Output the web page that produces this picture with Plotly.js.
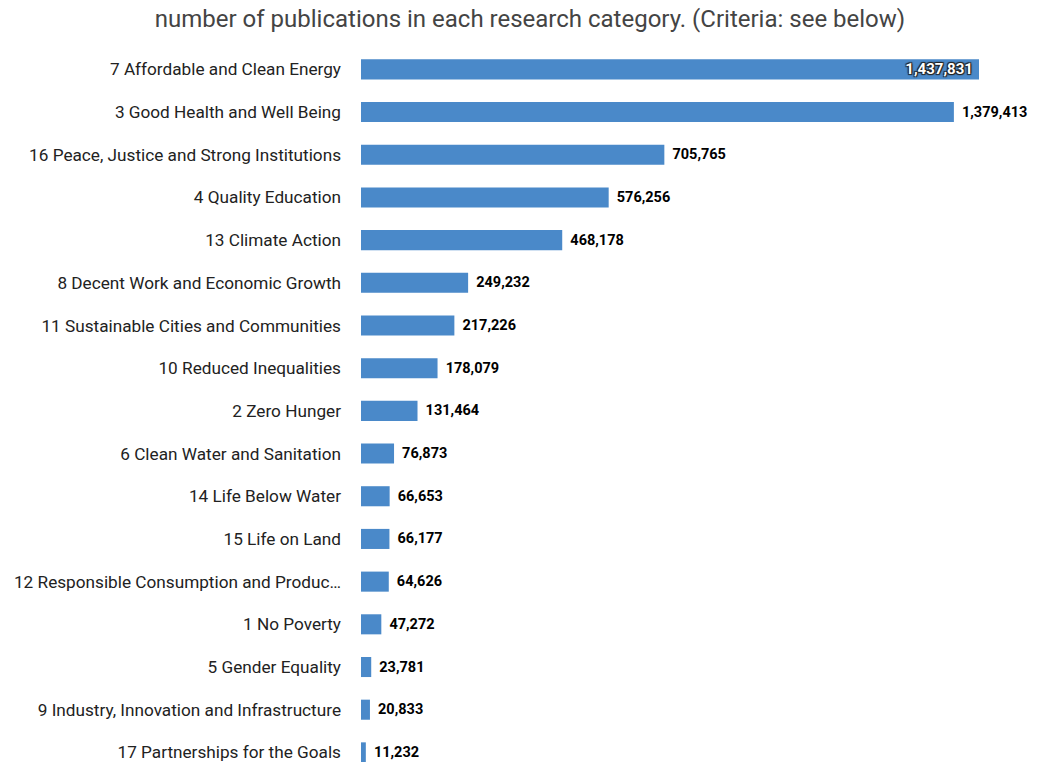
<!DOCTYPE html>
<html>
<head>
<meta charset="utf-8">
<script src="https://cdn.plot.ly/plotly-3.0.1.min.js"></script>
<style>html,body{margin:0;padding:0;background:#fff;}#chart{width:1042px;height:762px;}</style>
</head>
<body>
<div id="chart"></div>
<script>
const categories = [
  "7 Affordable and Clean Energy",
  "3 Good Health and Well Being",
  "16 Peace, Justice and Strong Institutions",
  "4 Quality Education",
  "13 Climate Action",
  "8 Decent Work and Economic Growth",
  "11 Sustainable Cities and Communities",
  "10 Reduced Inequalities",
  "2 Zero Hunger",
  "6 Clean Water and Sanitation",
  "14 Life Below Water",
  "15 Life on Land",
  "12 Responsible Consumption and Produc\u2026",
  "1 No Poverty",
  "5 Gender Equality",
  "9 Industry, Innovation and Infrastructure",
  "17 Partnerships for the Goals"
];
const publications = [1437831, 1379413, 705765, 576256, 468178, 249232, 217226, 178079, 131464, 76873, 66653, 66177, 64626, 47272, 23781, 20833, 11232];
const chartTitle = "number of publications in each research category. (Criteria: see below)";

const maxVal = Math.max(...publications);
const positions = publications.map(v => v === maxVal ? 'inside' : 'outside');
const labels = publications.map(v => v === maxVal ? v.toLocaleString('en-US') + '\u2009' : ' \u200a' + v.toLocaleString('en-US'));

const trace = {
  type: 'bar',
  orientation: 'h',
  y: categories,
  x: publications,
  text: labels,
  textposition: positions,
  insidetextanchor: 'end',
  constraintext: 'none',
  insidetextfont: {family: 'Roboto', size: 15, color: '#ffffff', weight: 700,
    shadow: '1px 1px 1px #222, -1px -1px 1px #222, 1px -1px 1px #222, -1px 1px 1px #222'},
  outsidetextfont: {family: 'Roboto', size: 14.5, color: '#000000', weight: 700},
  cliponaxis: false,
  width: 0.47,
  marker: {color: '#4a89c9'},
  hoverinfo: 'none'
};

const plotW = 1042 - 361 - 12;
const xMax = maxVal * plotW / 618;
const rowH = 42.69;
const plotH = 762 - 48;
const yEnd = -0.5 + plotH / rowH;

const layout = {
  width: 1042, height: 762,
  margin: {l: 361, r: 12, t: 48, b: 0},
  paper_bgcolor: '#ffffff', plot_bgcolor: '#ffffff',
  showlegend: false,
  title: {text: chartTitle, font: {family: 'Roboto', size: 24, color: '#444444'}, x: 0.5086, xanchor: 'center', y: 0.976, yanchor: 'middle'},
  xaxis: {range: [0, xMax], visible: false, showgrid: false, zeroline: false, fixedrange: true},
  yaxis: {type: 'category', range: [yEnd, -0.5], showgrid: false, zeroline: false, showline: false,
    ticks: '', ticklabelstandoff: 19,
    tickfont: {family: 'Roboto', size: 17.2, color: '#222222'}, fixedrange: true},
  font: {family: 'Roboto'}
};

Plotly.newPlot('chart', [trace], layout, {displayModeBar: false, staticPlot: true});
</script>
</body>
</html>
